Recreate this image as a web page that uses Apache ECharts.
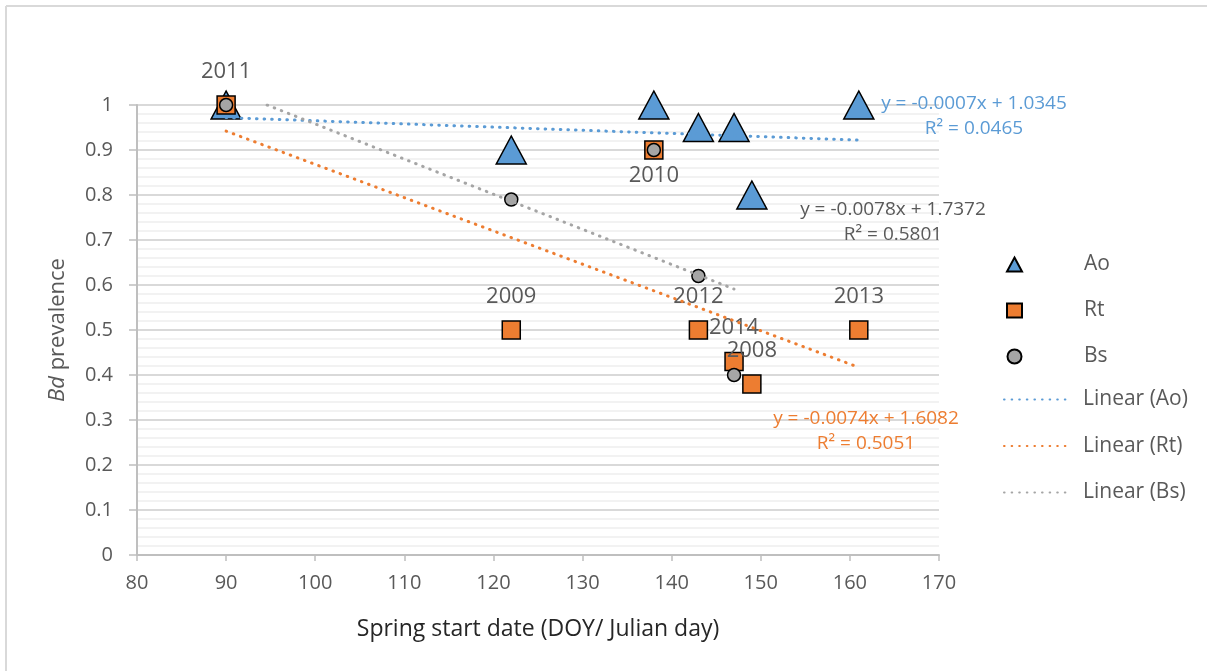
<!DOCTYPE html>
<html>
<head>
<meta charset="utf-8">
<script src="https://cdn.jsdelivr.net/npm/echarts@6/dist/echarts.min.js"></script>
<style>html,body{margin:0;padding:0;background:#fff}#c{width:1207px;height:671px}</style>
</head>
<body>
<div id="c"></div>
<script>
// Data
const aoX = [90, 122, 138, 143, 147, 149, 161];
const aoY = [1.0, 0.9, 1.0, 0.95, 0.95, 0.8, 1.0];
const rtX = [90, 122, 138, 143, 147, 149, 161];
const rtY = [1.0, 0.5, 0.9, 0.5, 0.43, 0.38, 0.5];
const rtYears = ['2011', '2009', '2010', '2012', '2014', '2008', '2013'];
const bsX = [90, 122, 138, 143, 147];
const bsY = [1.0, 0.79, 0.9, 0.62, 0.4];
// trendline endpoints
const aoTrendX = [90, 161];
const aoTrendY = [0.972, 0.922];
const rtTrendX = [90, 161];
const rtTrendY = [0.942, 0.417];
const bsTrendX = [94.6, 147];
const bsTrendY = [1.0, 0.591];
const eqAo = ['y = -0.0007x + 1.0345', 'R² = 0.0465'];
const eqRt = ['y = -0.0074x + 1.6082', 'R² = 0.5051'];
const eqBs = ['y = -0.0078x + 1.7372', 'R² = 0.5801'];
const xTicks = [80, 170, 10];
const yTicks = [0, 1, 0.1];

const FONT = '"Open Sans", "Noto Sans", sans-serif';
const TXT = '#595959';
const C_AO = '#5b9bd5', C_RT = '#ed7d31', C_BS = '#a5a5a5';
const DOTS = [0.6, 7];

const zip = (xs, ys) => xs.map((x, i) => [x, ys[i]]);

const chart = echarts.init(document.getElementById('c'), null, {renderer: 'canvas'});

function eqText(eq, color, cx, cy) {
  return {
    type: 'text', x: cx, y: cy, z: 100, silent: true,
    style: {
      text: eq.join('\n'),
      fill: color, fontSize: 19, fontFamily: FONT, align: 'center', verticalAlign: 'middle',
      lineHeight: 25
    }
  };
}

const option = {
  backgroundColor: '#fff',
  animation: false,
  textStyle: {fontFamily: FONT},
  grid: {left: 137, right: 268, top: 105, bottom: 116, containLabel: false},
  xAxis: {
    type: 'value', min: xTicks[0], max: xTicks[1], interval: xTicks[2],
    name: 'Spring start date (DOY/ Julian day)', nameLocation: 'middle', nameGap: 63,
    nameTextStyle: {color: '#262626', fontSize: 23, fontFamily: FONT, verticalAlign: 'top'},
    axisLine: {show: true, lineStyle: {color: '#bfbfbf', width: 2}},
    axisTick: {show: true, length: 6, lineStyle: {color: '#bfbfbf', width: 1.5}},
    axisLabel: {color: TXT, fontSize: 20, margin: 18, fontFamily: FONT},
    splitLine: {show: false}
  },
  yAxis: {
    type: 'value', min: yTicks[0], max: yTicks[1], interval: yTicks[2],
    name: '{i|Bd} prevalence', nameLocation: 'middle', nameGap: 68, nameRotate: 90,
    nameTextStyle: {color: TXT, fontSize: 22, fontFamily: FONT, verticalAlign: 'bottom',
      rich: {i: {fontStyle: 'italic', fontSize: 22, color: TXT, fontFamily: FONT}}},
    axisLine: {show: true, lineStyle: {color: '#bfbfbf', width: 2}},
    axisTick: {show: true, length: 8, lineStyle: {color: '#bfbfbf', width: 1.5}},
    axisLabel: {color: TXT, fontSize: 20, margin: 24, fontFamily: FONT},
    splitLine: {show: true, lineStyle: {color: '#d9d9d9', width: 2}},
    minorTick: {show: false, splitNumber: 5},
    minorSplitLine: {show: true, lineStyle: {color: '#eeeeee', width: 1.5}}
  },
  legend: [{
    orient: 'vertical', left: 1001, top: 249, itemWidth: 15, itemHeight: 14, itemGap: 25,
    data: ['Ao', 'Rt', 'Bs'],
    textStyle: {color: TXT, fontSize: 21, fontFamily: FONT, lineHeight: 20, padding: [0, 0, 0, 57]}
  }, {
    orient: 'vertical', left: 998, top: 384, itemWidth: 68, itemHeight: 14, itemGap: 25.5,
    data: ['Linear (Ao)', 'Linear (Rt)', 'Linear (Bs)'],
    itemStyle: {opacity: 0},
    textStyle: {color: TXT, fontSize: 21, fontFamily: FONT, lineHeight: 20, padding: [0, 0, 0, 6]}
  }],
  series: [
    {
      name: 'Ao', type: 'scatter', data: zip(aoX, aoY), symbol: 'triangle', symbolSize: [30, 28],
      itemStyle: {color: C_AO, borderColor: '#000', borderWidth: 1.5, opacity: 1}, z: 3
    },
    {
      name: 'Rt', type: 'scatter', data: zip(rtX, rtY).map((p, i) => ({
        value: p,
        label: {show: true, formatter: rtYears[i], position: rtYears[i] === '2010' ? 'bottom' : 'top',
          distance: rtYears[i] === '2010' ? 5 : 13, color: TXT, fontSize: 22, fontFamily: FONT}
      })),
      symbol: 'rect', symbolSize: 18,
      itemStyle: {color: C_RT, borderColor: '#000', borderWidth: 1.5, opacity: 1}, z: 4
    },
    {
      name: 'Bs', type: 'scatter', data: zip(bsX, bsY), symbol: 'circle', symbolSize: 13,
      itemStyle: {color: C_BS, borderColor: '#000', borderWidth: 1.5, opacity: 1}, z: 5
    },
    {
      name: 'Linear (Ao)', type: 'line', data: zip(aoTrendX, aoTrendY), symbol: 'none', z: 6,
      lineStyle: {color: C_AO, width: 3, type: DOTS, cap: 'round'}, itemStyle: {color: C_AO}
    },
    {
      name: 'Linear (Rt)', type: 'line', data: zip(rtTrendX, rtTrendY), symbol: 'none', z: 6,
      lineStyle: {color: C_RT, width: 3, type: DOTS, cap: 'round'}, itemStyle: {color: C_RT}
    },
    {
      name: 'Linear (Bs)', type: 'line', data: zip(bsTrendX, bsTrendY), symbol: 'none', z: 6,
      lineStyle: {color: C_BS, width: 3, type: DOTS, cap: 'round'}, itemStyle: {color: C_BS}
    }
  ],
  graphic: [
    {type: 'line', shape: {x1: 6, y1: 6, x2: 1207, y2: 6}, style: {stroke: '#d9d9d9', lineWidth: 2}, silent: true},
    {type: 'line', shape: {x1: 6, y1: 6, x2: 6, y2: 671}, style: {stroke: '#d9d9d9', lineWidth: 2}, silent: true},
    eqText(eqAo, C_AO, 974, 116),
    eqText(eqBs, '#595959', 893, 222),
    eqText(eqRt, C_RT, 866, 431)
  ]
};
chart.setOption(option);
</script>
</body>
</html>
